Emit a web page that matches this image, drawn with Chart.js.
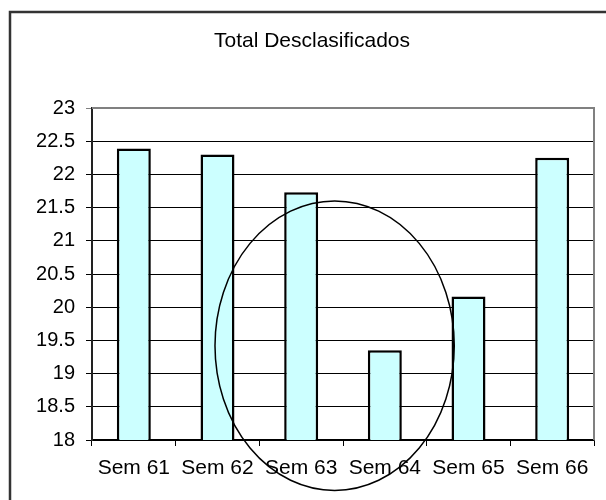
<!DOCTYPE html>
<html>
<head>
<meta charset="utf-8">
<script src="https://cdn.jsdelivr.net/npm/chart.js@4"></script>
<style>
html,body{margin:0;padding:0;background:#fff;}
#wrap{width:606px;height:500px;position:relative;}
</style>
</head>
<body>
<div id="wrap"><canvas id="c"></canvas></div>
<script>
const chartTitle = "Total Desclasificados";
const categories = ["Sem 61", "Sem 62", "Sem 63", "Sem 64", "Sem 65", "Sem 66"];
const values = [22.39, 22.30, 21.73, 19.35, 20.16, 22.25];
const yTicks = [18, 18.5, 19, 19.5, 20, 20.5, 21, 21.5, 22, 22.5, 23];
// Hand-drawn ellipse annotation, expressed in data space (category index, value)
const ellipseCenter = [2.4, 19.42];
const ellipseRadius = [1.43, 2.18];

const FONT = '"Liberation Sans", Arial, sans-serif';

const decor = {
  id: 'decor',
  beforeDraw(chart) {
    const ctx = chart.ctx;
    ctx.save();
    ctx.fillStyle = '#fff';
    ctx.fillRect(0, 0, chart.width, chart.height);
    ctx.strokeStyle = '#333';
    ctx.lineWidth = 2.5;
    ctx.strokeRect(10, 12, 700, 700);
    ctx.fillStyle = '#000';
    ctx.font = '21px ' + FONT;
    ctx.textAlign = 'center';
    ctx.textBaseline = 'middle';
    ctx.fillText(chartTitle, 312, 41);
    ctx.restore();
  },
  beforeDatasetsDraw(chart) {
    const a = chart.chartArea, ctx = chart.ctx;
    ctx.save();
    ctx.strokeStyle = '#808080';
    ctx.lineWidth = 2;
    ctx.beginPath();
    ctx.moveTo(a.left, a.top);
    ctx.lineTo(a.right, a.top);
    ctx.lineTo(a.right, a.bottom);
    ctx.stroke();
    ctx.restore();
  },
  afterDraw(chart) {
    const x = chart.scales.x, y = chart.scales.y, ctx = chart.ctx;
    const step = x.getPixelForValue(1) - x.getPixelForValue(0);
    const cx = x.getPixelForValue(0) + step * ellipseCenter[0];
    const cy = y.getPixelForValue(ellipseCenter[1]);
    const rx = step * ellipseRadius[0];
    const ry = Math.abs(y.getPixelForValue(ellipseCenter[1] + ellipseRadius[1]) - cy);
    ctx.save();
    ctx.strokeStyle = '#000';
    ctx.lineWidth = 1.5;
    ctx.beginPath();
    ctx.ellipse(cx, cy, rx, ry, 0, 0, Math.PI * 2);
    ctx.stroke();
    ctx.restore();
  }
};

new Chart(document.getElementById('c'), {
  type: 'bar',
  data: {
    labels: categories,
    datasets: [{
      data: values,
      backgroundColor: '#CCFFFF',
      borderColor: '#000',
      borderWidth: 2.5,
      borderSkipped: false,
      barPercentage: 0.406,
      categoryPercentage: 1
    }]
  },
  options: {
    responsive: true,
    maintainAspectRatio: false,
    animation: false,
    layout: { padding: { left: 0, right: 12, top: 108, bottom: 0 } },
    plugins: { legend: { display: false }, title: { display: false }, tooltip: { enabled: false } },
    scales: {
      x: {
        grid: { offset: true, drawOnChartArea: false, color: '#000', tickLength: 6, lineWidth: 1 },
        border: { color: '#000', width: 1.5 },
        ticks: { color: '#000', font: { family: FONT, size: 21 }, padding: 10, maxRotation: 0, autoSkip: false },
        afterFit(s) { s.height = 60; }
      },
      y: {
        min: 18,
        max: 23,
        afterBuildTicks(s) { s.ticks = yTicks.map(v => ({ value: v })); },
        grid: {
          color: ctx => (ctx.tick && ctx.tick.value === 23) ? '#808080' : '#000',
          tickLength: 6,
          lineWidth: 1
        },
        border: { color: '#222', width: 2 },
        ticks: { color: '#000', font: { family: FONT, size: 20 }, padding: 11,
                 callback: v => String(v) },
        afterFit(s) { s.width = 92; }
      }
    }
  },
  plugins: [decor]
});
</script>
</body>
</html>
